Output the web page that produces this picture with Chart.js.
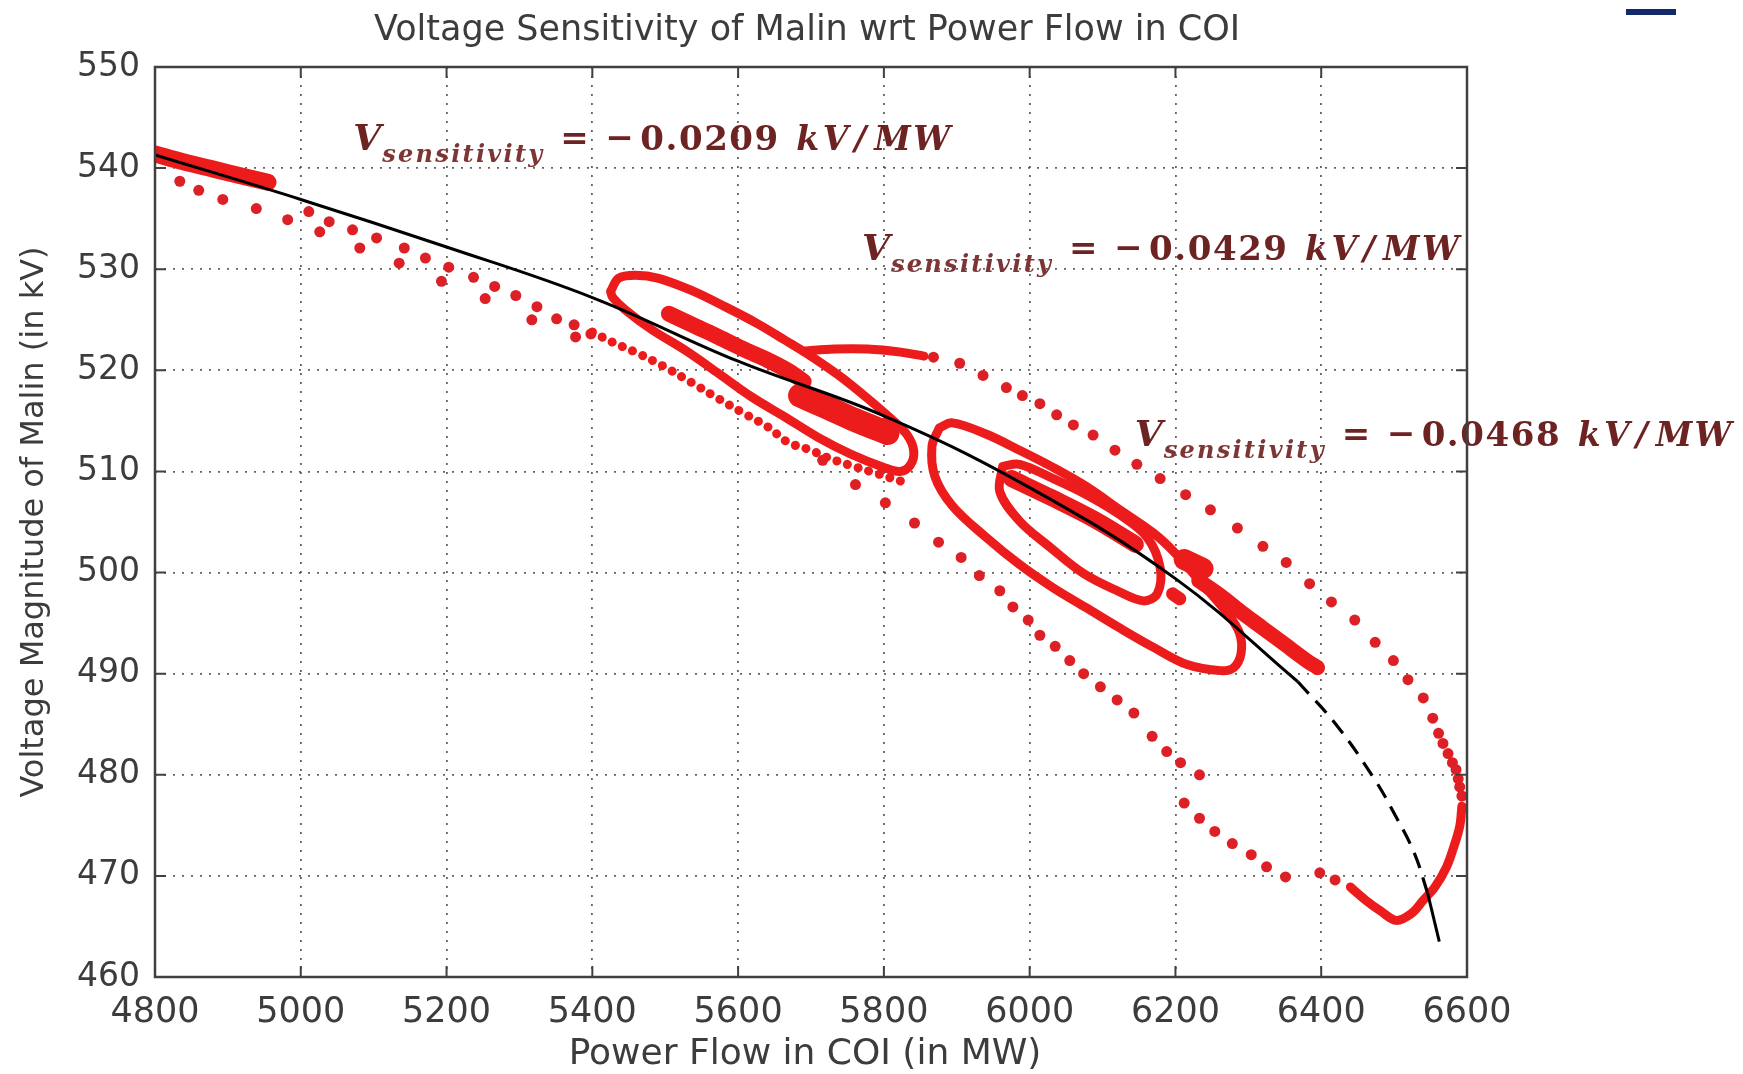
<!DOCTYPE html>
<html>
<head>
<meta charset="utf-8">
<title>Voltage Sensitivity of Malin</title>
<script src="https://cdn.jsdelivr.net/npm/chart.js@4.4.1/dist/chart.umd.min.js"></script>
<style>
  html, body { margin: 0; padding: 0; background: #fff; }
  #wrap { position: relative; width: 1743px; height: 1074px; }
</style>
</head>
<body>
<div id="wrap"><canvas id="coi" width="1743" height="1074"></canvas></div>
<script>
// axis ticks
const flowTicks = [4800, 5000, 5200, 5400, 5600, 5800, 6000, 6200, 6400, 6600];
const voltTicks = [460, 470, 480, 490, 500, 510, 520, 530, 540, 550];

// quadratic fit of voltage vs. COI flow (solid), extrapolated part (dashed)
const fitFlow = [4800, 5000, 5200, 5400, 5600, 5800, 6000, 6200, 6368];
const fitVolt = [541.3, 536.9, 532.2, 527.2, 520.9, 515.5, 508.4, 499.4, 489.2];
const extFlow = [6368, 6420, 6471, 6500, 6528, 6546];
const extVolt = [489.2, 485.0, 479.8, 476.2, 472.2, 468.3];
const endFlow = [6546, 6562];
const endVolt = [468.3, 463.5];

// measured trajectory: start cluster
const clusterFlow = [4800, 4840, 4880, 4920, 4955];
const clusterVolt = [541.4, 540.6, 539.9, 539.2, 538.6];

// sparse samples drifting down from the start cluster
const driftFlow = [4834, 4860, 4893, 4939, 4982, 5011, 5026, 5039, 5071, 5081, 5104, 5135, 5142, 5171, 5193, 5203, 5237, 5253, 5266, 5295, 5317, 5324, 5351, 5377, 5375, 5398];
const driftVolt = [538.7, 537.8, 536.9, 536.0, 534.9, 535.7, 533.7, 534.7, 533.9, 532.1, 533.1, 530.6, 532.1, 531.1, 528.8, 530.2, 529.2, 527.1, 528.3, 527.4, 525.0, 526.3, 525.1, 523.3, 524.5, 523.6];

// dense band under the first swing
const bandFlow = [5400, 5427, 5459, 5495, 5536, 5573, 5609, 5641, 5668, 5700, 5718, 5754, 5790, 5825];
const bandVolt = [523.8, 522.8, 521.8, 520.5, 518.8, 517.2, 515.7, 514.4, 512.9, 512.1, 511.5, 510.6, 509.8, 509.0];

// first oscillation loop (5400-5850 MW)
const loopAFlow = [5425, 5436, 5459, 5491, 5536, 5582, 5627, 5664, 5700, 5740, 5778, 5810, 5832, 5841, 5836, 5822, 5800, 5755, 5709, 5664, 5618, 5573, 5527, 5482, 5445, 5428, 5425];
const loopAVolt = [527.8, 529.1, 529.4, 529.1, 527.9, 526.3, 524.6, 523.0, 521.4, 519.4, 517.2, 515.2, 513.6, 512.0, 510.6, 510.0, 510.4, 511.7, 513.4, 515.4, 517.4, 519.7, 522.0, 524.0, 526.0, 527.2, 527.8];
const coreAFlow = [5505, 5540, 5573, 5610, 5641, 5670, 5690];
const coreAVolt = [525.6, 524.4, 523.3, 522.0, 521.0, 519.9, 518.9];
const blockFlow = [5685, 5720, 5760, 5805];
const blockVolt = [517.5, 516.4, 515.1, 513.8];
const bridgeFlow = [5690, 5732, 5777, 5823, 5855];
const bridgeVolt = [521.9, 522.1, 522.1, 521.8, 521.4];

// second oscillation loop (5870-6290 MW)
const loopBFlow = [5876, 5894, 5940, 5986, 6032, 6078, 6124, 6170, 6200, 6240, 6272, 6288, 6290, 6280, 6262, 6216, 6170, 6124, 6078, 6032, 5986, 5940, 5894, 5870, 5866, 5876];
const loopBVolt = [514.3, 514.8, 513.7, 512.1, 510.4, 508.5, 506.2, 503.9, 501.9, 498.6, 495.9, 494.0, 492.0, 490.6, 490.3, 490.9, 492.6, 494.5, 496.5, 498.5, 500.8, 503.5, 506.6, 509.5, 512.5, 514.3];
const innerBFlow = [5963, 5986, 6032, 6078, 6124, 6161, 6179, 6175, 6156, 6120, 6074, 6028, 5986, 5959, 5963];
const innerBVolt = [510.5, 510.7, 509.3, 507.7, 505.7, 503.5, 500.5, 497.9, 497.2, 498.2, 499.9, 502.5, 505.1, 508.0, 510.5];
const coreBFlow = [5975, 6030, 6090, 6145];
const coreBVolt = [509.3, 507.4, 505.2, 502.8];
const knobFlow = [6212, 6238];
const knobVolt = [501.3, 500.4];
const stubFlow = [6196, 6206];
const stubVolt = [497.9, 497.4];
const tailFlow = [6232, 6262, 6290, 6320, 6350, 6380, 6395];
const tailVolt = [499.2, 497.7, 496.1, 494.5, 492.9, 491.3, 490.6];

// sparse samples of the large excursion: lower leg, bottom hook, return arc
const lowerFlow = [5716, 5761, 5802, 5842, 5875, 5906, 5931, 5959, 5977, 5998, 6014, 6035, 6055, 6074, 6097, 6120, 6143, 6168, 6188, 6207, 6233, 6212, 6233, 6254, 6278, 6304, 6325, 6351, 6398, 6419];
const lowerVolt = [511.1, 508.7, 506.9, 504.9, 503.0, 501.5, 499.7, 498.2, 496.6, 495.3, 493.8, 492.7, 491.3, 490.0, 488.7, 487.4, 486.1, 483.8, 482.3, 481.2, 480.0, 477.2, 475.7, 474.4, 473.2, 472.1, 470.9, 469.9, 470.3, 469.6];
const hookFlow = [6440, 6461, 6482, 6503, 6524, 6540, 6556, 6572, 6582, 6590, 6593];
const hookVolt = [468.9, 467.6, 466.5, 465.6, 466.3, 467.6, 468.9, 470.9, 472.9, 474.9, 476.9];
const arcFlow = [5868, 5904, 5936, 5968, 5990, 6014, 6037, 6060, 6087, 6117, 6147, 6179, 6214, 6248, 6285, 6320, 6352, 6384, 6414, 6446, 6474, 6499, 6519, 6540, 6553, 6561, 6567, 6574, 6580, 6585, 6588, 6590, 6593];
const arcVolt = [521.3, 520.7, 519.5, 518.3, 517.5, 516.7, 515.6, 514.6, 513.6, 512.1, 510.7, 509.3, 507.7, 506.2, 504.4, 502.6, 501.0, 498.9, 497.1, 495.3, 493.1, 491.3, 489.4, 487.6, 485.6, 484.1, 483.1, 482.1, 481.2, 480.5, 479.6, 478.8, 477.9];

// sensitivity labels: value text and where each label starts (flow, voltage at baseline)
const noteValues = ['0.0209', '0.0429', '0.0468'];
const noteFlow = [5072, 5770, 6144];
const noteVolt = [541.8, 530.9, 512.5];

const RED = '#ec1c1c';
const DOT = '#dc2026';
const INK = '#3c3c3c';

const pairs = (xs, ys) => xs.map((x, i) => ({ x, y: ys[i] }));

function trace(xs, ys, width, extra) {
  return Object.assign({
    data: pairs(xs, ys),
    showLine: true,
    borderColor: RED,
    borderWidth: width,
    borderCapStyle: 'round',
    borderJoinStyle: 'round',
    tension: 0.35,
    pointRadius: 0
  }, extra || {});
}

function dots(xs, ys, r) {
  return {
    data: pairs(xs, ys),
    showLine: false,
    pointStyle: 'circle',
    pointRadius: r,
    pointBackgroundColor: DOT,
    pointBorderWidth: 0
  };
}

// text fitted into a fixed span: spread with letter spacing, or squeeze horizontally if too wide
function piece(ctx, text, x, y, font, width) {
  ctx.font = font;
  ctx.letterSpacing = '0px';
  const w = ctx.measureText(text).width;
  if (w > width) {
    ctx.save();
    ctx.translate(x, y);
    ctx.scale(width / w, 1);
    ctx.fillText(text, 0, 0);
    ctx.restore();
    return;
  }
  if (text.length > 1) ctx.letterSpacing = ((width - w) / (text.length - 1)) + 'px';
  ctx.fillText(text, x, y);
  ctx.letterSpacing = '0px';
}

function drawNote(ctx, x0, y0, value) {
  const serif = '"DejaVu Serif", "Liberation Serif", serif';
  ctx.textAlign = 'left';
  ctx.textBaseline = 'alphabetic';
  ctx.fillStyle = '#6e2323';
  piece(ctx, 'V', x0, y0, `italic bold 36px ${serif}`, 28);
  ctx.fillStyle = '#7d3535';
  piece(ctx, 'sensitivity', x0 + 29, y0 + 12, `italic bold 24px ${serif}`, 160);
  ctx.fillStyle = '#6e2323';
  piece(ctx, '=', x0 + 207, y0 - 1, `bold 34px ${serif}`, 29);
  piece(ctx, '\u2212', x0 + 252, y0 - 1, `bold 34px ${serif}`, 29);
  piece(ctx, value, x0 + 287, y0, `bold 34px ${serif}`, 138);
  piece(ctx, 'kV', x0 + 443, y0, `italic bold 33px ${serif}`, 52);
  piece(ctx, '/', x0 + 501, y0, `italic bold 33px ${serif}`, 16);
  piece(ctx, 'MW', x0 + 521, y0, `italic bold 33px ${serif}`, 76);
}

const decorPlugin = {
  id: 'decor',
  afterDatasetsDraw(chart) {
    const { ctx, chartArea: a, scales: { x, y } } = chart;
    ctx.save();
    noteValues.forEach((v, i) => {
      drawNote(ctx, x.getPixelForValue(noteFlow[i]), y.getPixelForValue(noteVolt[i]), v);
    });

    // axes box with inward ticks on all four sides
    ctx.strokeStyle = '#404040';
    ctx.lineWidth = 2.5;
    ctx.strokeRect(a.left, a.top, a.width, a.height);
    ctx.lineWidth = 2;
    ctx.beginPath();
    flowTicks.forEach(t => {
      const px = x.getPixelForValue(t);
      ctx.moveTo(px, a.bottom); ctx.lineTo(px, a.bottom - 11);
      ctx.moveTo(px, a.top); ctx.lineTo(px, a.top + 11);
    });
    voltTicks.forEach(t => {
      const py = y.getPixelForValue(t);
      ctx.moveTo(a.left, py); ctx.lineTo(a.left + 11, py);
      ctx.moveTo(a.right, py); ctx.lineTo(a.right - 11, py);
    });
    ctx.stroke();
    ctx.restore();
  },
  afterDraw(chart) {
    const { ctx, chartArea: a } = chart;
    ctx.save();
    ctx.fillStyle = INK;
    ctx.textAlign = 'center';
    ctx.textBaseline = 'alphabetic';
    ctx.font = '35px "DejaVu Sans", sans-serif';
    ctx.fillText('Voltage Sensitivity of Malin wrt Power Flow in COI', (a.left + a.right) / 2 - 4, 40);
    ctx.font = '36px "DejaVu Sans", sans-serif';
    ctx.fillText('Power Flow in COI (in MW)', (a.left + a.right) / 2 - 6, 1064);
    ctx.translate(35, (a.top + a.bottom) / 2);
    ctx.rotate(-Math.PI / 2);
    ctx.textBaseline = 'middle';
    ctx.font = '32px "DejaVu Sans", sans-serif';
    ctx.fillText('Voltage Magnitude of Malin (in kV)', 0, 0);
    ctx.restore();

    // small slide marker in the upper right corner
    ctx.fillStyle = '#14296b';
    ctx.fillRect(1626, 9, 50, 6);
  }
};

new Chart(document.getElementById('coi'), {
  type: 'scatter',
  data: {
    datasets: [
      { data: pairs(fitFlow, fitVolt), showLine: true, borderColor: '#000', borderWidth: 3, tension: 0.4, pointRadius: 0 },
      { data: pairs(extFlow, extVolt), showLine: true, borderColor: '#000', borderWidth: 3.2, borderDash: [16, 10], tension: 0.4, pointRadius: 0 },
      { data: pairs(endFlow, endVolt), showLine: true, borderColor: '#000', borderWidth: 3, pointRadius: 0 },
      trace(clusterFlow, clusterVolt, 17),
      trace(coreAFlow, coreAVolt, 16),
      trace(blockFlow, blockVolt, 24),
      trace(loopAFlow, loopAVolt, 9),
      trace(bridgeFlow, bridgeVolt, 9),
      trace(bandFlow, bandVolt, 9, { borderDash: [0.1, 11] }),
      trace(coreBFlow, coreBVolt, 17),
      trace(knobFlow, knobVolt, 21),
      trace(stubFlow, stubVolt, 13),
      trace(tailFlow, tailVolt, 15),
      trace(innerBFlow, innerBVolt, 9),
      trace(loopBFlow, loopBVolt, 9),
      trace(hookFlow, hookVolt, 9),
      dots(driftFlow, driftVolt, 5.5),
      dots(lowerFlow, lowerVolt, 5.5),
      dots(arcFlow, arcVolt, 5.5)
    ]
  },
  options: {
    responsive: false,
    devicePixelRatio: 1,
    animation: false,
    layout: { padding: { left: 0, top: 67, right: 276, bottom: 0 } },
    plugins: { legend: { display: false }, tooltip: { enabled: false }, title: { display: false } },
    scales: {
      x: {
        type: 'linear',
        min: 4800,
        max: 6600,
        afterFit: s => { s.height = 97; },
        afterBuildTicks: s => { s.ticks = flowTicks.map(v => ({ value: v })); },
        ticks: {
          autoSkip: false,
          maxRotation: 0,
          padding: 15,
          color: INK,
          font: { family: 'DejaVu Sans', size: 35 },
          callback: v => String(v)
        },
        grid: { color: 'rgba(70,70,70,0.85)', lineWidth: 1.8, drawTicks: false },
        border: { display: false, dash: [2, 7] }
      },
      y: {
        type: 'linear',
        min: 460,
        max: 550,
        afterFit: s => { s.width = 155; },
        afterBuildTicks: s => { s.ticks = voltTicks.map(v => ({ value: v })); },
        ticks: {
          autoSkip: false,
          padding: 15,
          color: INK,
          font: { family: 'DejaVu Sans', size: 33 },
          callback: v => String(v)
        },
        grid: { color: 'rgba(70,70,70,0.85)', lineWidth: 1.8, drawTicks: false },
        border: { display: false, dash: [2, 7] }
      }
    }
  },
  plugins: [decorPlugin]
});
</script>
</body>
</html>
